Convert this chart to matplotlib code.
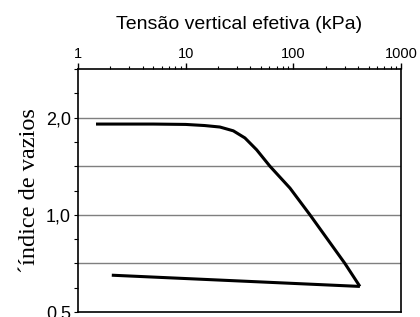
import numpy as np
import matplotlib.pyplot as plt
from matplotlib.ticker import FixedLocator, LogLocator, NullFormatter

# curva de compressao (carregamento)
tensao_carga = [1.47, 5.0, 10.0, 15.0, 20.8, 27.7, 35.5, 45.6, 60.6, 93.0, 142.6, 301.0, 415.0]
e_carga = [1.91, 1.91, 1.905, 1.89, 1.87, 1.82, 1.73, 1.59, 1.414, 1.21, 1.0, 0.707, 0.60]

# descarregamento
tensao_descarga = [415.0, 2.06]
e_descarga = [0.60, 0.65]

# marcas do eixo y a cada 1/4 de oitava, rotulo so em 0,5 / 1,0 / 2,0
y_ticks = [0.5 * 2 ** (k / 4) for k in range(11)]
y_labels = ['0,5', '', '', '', '1,0', '', '', '', '2,0', '', '']
grid_y = [0.5 * 2 ** 0.5, 1.0, 2 ** 0.5, 2.0]

fig = plt.figure(figsize=(4.2, 3.17), dpi=100)
ax = fig.add_axes([0.1857, 0.0158, 0.7691, 0.7665])

ax.plot(tensao_carga, e_carga, color='black', lw=2.2, solid_capstyle='butt')
ax.plot(tensao_descarga, e_descarga, color='black', lw=2.2, solid_capstyle='butt')

for g in grid_y:
    ax.axhline(g, color='#7f7f7f', lw=1.0, zorder=0)

ax.set_xscale('log')
ax.set_yscale('log')
ax.set_xlim(1, 1000)
ax.set_ylim(0.5, 2 ** 1.5)

ax.xaxis.set_ticks_position('top')
ax.xaxis.set_label_position('top')
ax.set_xticks([1, 10, 100, 1000])
ax.set_xticklabels(['1', '10', '100', '1000'], fontsize=10.5, family='Liberation Sans')
ax.xaxis.set_minor_locator(LogLocator(base=10, subs=np.arange(2, 10)))
ax.xaxis.set_minor_formatter(NullFormatter())
ax.tick_params(axis='x', which='major', length=4, width=1, pad=2)
ax.tick_params(axis='x', which='minor', length=2, width=0.8)

ax.yaxis.set_major_locator(FixedLocator(y_ticks))
ax.yaxis.set_minor_locator(FixedLocator([]))
ax.set_yticklabels(y_labels, fontsize=13, family='Liberation Sans')
ax.tick_params(axis='y', which='major', length=3, width=0.8, pad=2)

ax.set_xlabel('Tensão vertical efetiva (kPa)', fontsize=14,
              family='Liberation Sans', labelpad=13)
ax.set_ylabel('´índice de vazios', fontsize=17.5, family='Liberation Serif', labelpad=4)

for s in ax.spines.values():
    s.set_linewidth(1.2)
    s.set_color('black')

fig.savefig('out.png', dpi=100)
